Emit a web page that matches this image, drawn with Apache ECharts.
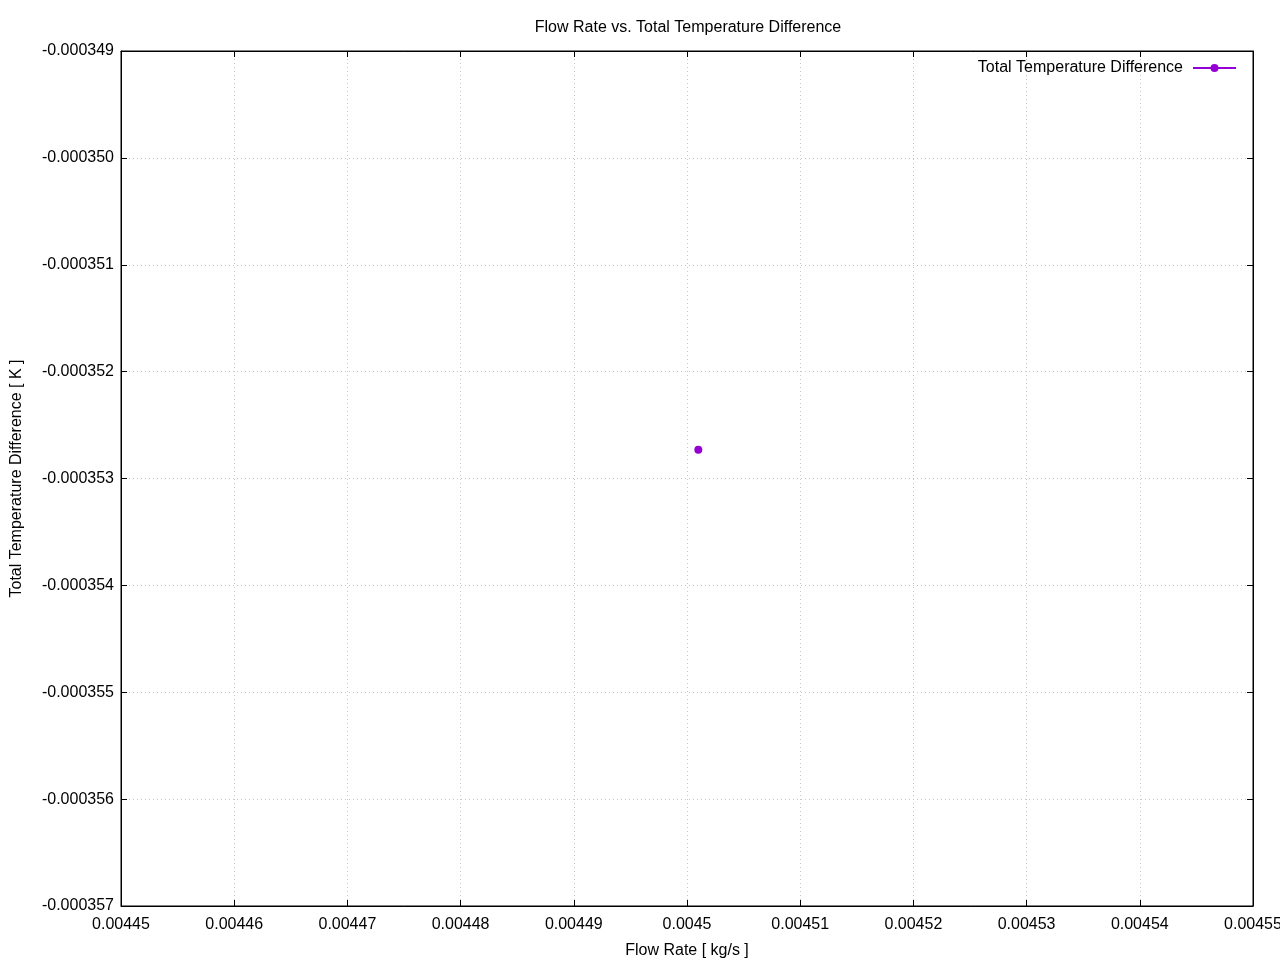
<!DOCTYPE html>
<html>
<head>
<meta charset="utf-8">
<script src="https://cdn.jsdelivr.net/npm/echarts@6/dist/echarts.min.js"></script>
<style>html,body{margin:0;padding:0;background:#fff}#c{width:1280px;height:960px}</style>
</head>
<body>
<div id="c"></div>
<script>
const chartTitle = "Flow Rate vs. Total Temperature Difference";
const xName = "Flow Rate [ kg/s ]";
const yName = "Total Temperature Difference [ K ]";
const seriesName = "Total Temperature Difference";
const flowRate = [0.004501];
const tempDiff = [-0.00035273];
const xMin = 0.00445, xMax = 0.00455, xStep = 0.00001;
const yMin = -0.000357, yMax = -0.000349, yStep = 0.000001;

const font = "Liberation Sans, Arial, sans-serif";
const chart = echarts.init(document.getElementById('c'));
const fmtX = v => parseFloat(v.toFixed(6)).toString();
const fmtY = v => v.toFixed(6);
const common = {type:'value', axisLine:{show:true, lineStyle:{color:'#000', width:1}},
  axisTick:{show:true, inside:true, length:6, lineStyle:{color:'#000'}}};
chart.setOption({
  animation:false,
  backgroundColor:'#fff',
  title:{text:chartTitle, left:683, top:15, textAlign:'center',
    textStyle:{fontFamily:font, fontSize:16, fontWeight:'normal', color:'#000'}},
  legend:{right:38, top:55, itemWidth:43, itemHeight:10, align:'right',
    textStyle:{fontFamily:font, fontSize:16, color:'#000', padding:[0,5,0,0]}, data:[seriesName]},
  grid:{left:121, right:27, top:51, bottom:54, show:true, borderColor:'#000', borderWidth:1,
    outerBoundsMode:'none', containLabel:false},
  xAxis:[
    Object.assign({}, common, {min:xMin, max:xMax, interval:xStep, position:'bottom',
      name:xName, nameLocation:'middle', nameGap:37,
      nameTextStyle:{fontFamily:font, fontSize:16, color:'#000'},
      axisLabel:{formatter:fmtX, fontFamily:font, fontSize:16, color:'#000', margin:11},
      splitLine:{show:true, lineStyle:{color:'#c8c8c8', type:[1,3], width:1}}}),
    Object.assign({}, common, {min:xMin, max:xMax, interval:xStep, position:'top',
      axisLabel:{show:false}, splitLine:{show:false}})
  ],
  yAxis:[
    Object.assign({}, common, {min:yMin, max:yMax, interval:yStep, position:'left',
      name:yName, nameLocation:'middle', nameGap:96,
      nameTextStyle:{fontFamily:font, fontSize:16, color:'#000'},
      axisLabel:{formatter:fmtY, fontFamily:font, fontSize:16, color:'#000', margin:7, padding:[4,0,0,0]},
      splitLine:{show:true, lineStyle:{color:'#c8c8c8', type:[1,3], width:1}}}),
    Object.assign({}, common, {min:yMin, max:yMax, interval:yStep, position:'right',
      axisLabel:{show:false}, splitLine:{show:false}})
  ],
  series:[{
    name:seriesName, type:'line', xAxisIndex:0, yAxisIndex:0,
    data:flowRate.map((x,i)=>[x, tempDiff[i]]),
    symbol:'circle', symbolSize:8, showSymbol:true,
    itemStyle:{color:'#9400d3'}, lineStyle:{color:'#9400d3', width:2}
  }]
});
</script>
</body>
</html>
